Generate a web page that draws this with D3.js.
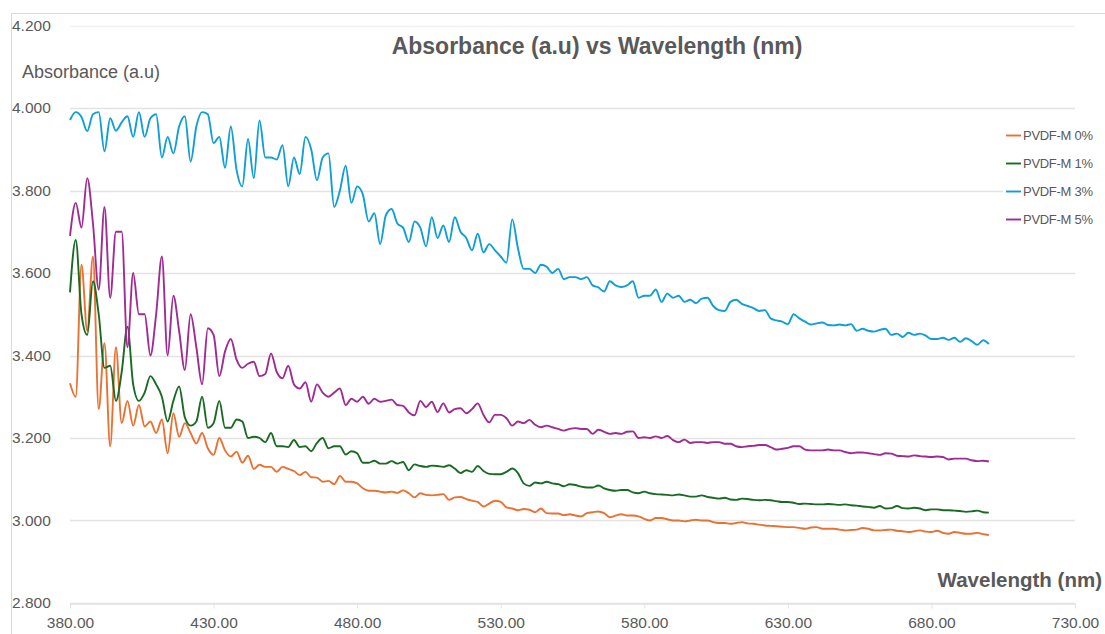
<!DOCTYPE html>
<html>
<head>
<meta charset="utf-8">
<script src="https://cdn.jsdelivr.net/npm/d3@7"></script>
<style>
  body { margin: 0; background: #fff; }
  svg { font-family: "Liberation Sans", Arial, sans-serif; }
</style>
</head>
<body>
<div id="chart"></div>
<script>
// wavelength grid (nm), 2 nm steps from 380 to 700
var wavelengths = d3.range(380, 701, 2);

var xTicks = [380, 430, 480, 530, 580, 630, 680, 730];
var yTicks = [2.8, 3.0, 3.2, 3.4, 3.6, 3.8, 4.0, 4.2];

var seriesNames = ["PVDF-M 0%", "PVDF-M 1%", "PVDF-M 3%", "PVDF-M 5%"];
var seriesColors = ["#E97132", "#196B24", "#0F9ED5", "#A02B93"];

var pvdf0 = [
  3.333, 3.30, 3.62, 3.46, 3.64, 3.27, 3.43, 3.18, 3.42, 3.236,
  3.29, 3.23, 3.28, 3.228, 3.24, 3.212, 3.245, 3.163, 3.26, 3.203,
  3.236, 3.212, 3.187, 3.212, 3.175, 3.159, 3.20, 3.17, 3.155, 3.167,
  3.14, 3.157, 3.125, 3.135, 3.13, 3.13, 3.118, 3.13, 3.125, 3.12,
  3.11, 3.118, 3.105, 3.104, 3.094, 3.096, 3.088, 3.108, 3.094, 3.094,
  3.09, 3.078, 3.072, 3.072, 3.07, 3.068, 3.07, 3.067, 3.073, 3.066,
  3.056, 3.066, 3.062, 3.061, 3.062, 3.064, 3.05, 3.056, 3.057, 3.052,
  3.048, 3.045, 3.034, 3.041, 3.048, 3.045, 3.032, 3.029, 3.025, 3.028,
  3.026, 3.02, 3.029, 3.018, 3.017, 3.017, 3.013, 3.015, 3.012, 3.01,
  3.018, 3.02, 3.022, 3.018, 3.008, 3.012, 3.015, 3.012, 3.012, 3.01,
  3.004, 3.0, 3.006, 3.006, 3.003, 3.0, 3.0, 2.998, 3.0, 3.002,
  3.0, 3.0, 2.996, 2.994, 2.994, 2.992, 2.994, 2.996, 2.993, 2.992,
  2.99, 2.988, 2.987, 2.986, 2.985, 2.984, 2.984, 2.982, 2.98, 2.983,
  2.984, 2.98, 2.98, 2.98, 2.978, 2.976, 2.977, 2.978, 2.982, 2.98,
  2.976, 2.976, 2.977, 2.978, 2.975, 2.974, 2.972, 2.974, 2.976, 2.973,
  2.972, 2.975, 2.97, 2.968, 2.972, 2.97, 2.968, 2.968, 2.97, 2.967,
  2.965
];

var pvdf1 = [
  3.553, 3.68, 3.50, 3.45, 3.58, 3.50, 3.37, 3.375, 3.29, 3.36,
  3.47, 3.33, 3.29, 3.31, 3.35, 3.33, 3.30, 3.24, 3.29, 3.325,
  3.25, 3.23, 3.24, 3.30, 3.225, 3.236, 3.29, 3.225, 3.225, 3.245,
  3.24, 3.20, 3.203, 3.20, 3.19, 3.212, 3.18, 3.18, 3.178, 3.195,
  3.178, 3.18, 3.168, 3.188, 3.20, 3.175, 3.18, 3.18, 3.16, 3.168,
  3.163, 3.14, 3.14, 3.145, 3.138, 3.138, 3.144, 3.138, 3.142, 3.122,
  3.136, 3.132, 3.13, 3.133, 3.132, 3.13, 3.134, 3.126, 3.115, 3.122,
  3.118, 3.132, 3.12, 3.113, 3.112, 3.112, 3.118, 3.126, 3.115, 3.09,
  3.084, 3.092, 3.09, 3.094, 3.09, 3.088, 3.083, 3.088, 3.086, 3.082,
  3.08, 3.08, 3.085, 3.078, 3.074, 3.072, 3.074, 3.074, 3.068, 3.066,
  3.07, 3.066, 3.064, 3.063, 3.062, 3.061, 3.063, 3.061, 3.058, 3.058,
  3.061, 3.057, 3.055, 3.053, 3.055, 3.051, 3.05, 3.053, 3.052, 3.05,
  3.049, 3.05, 3.049, 3.047, 3.045, 3.045, 3.043, 3.04, 3.041, 3.04,
  3.039, 3.039, 3.04, 3.039, 3.038, 3.039, 3.037, 3.036, 3.034, 3.033,
  3.031, 3.035, 3.029, 3.03, 3.035, 3.03, 3.029, 3.031, 3.029, 3.025,
  3.027, 3.027, 3.025, 3.025, 3.024, 3.023, 3.021, 3.022, 3.024, 3.02,
  3.019
];

var pvdf3 = [
  3.971, 3.99, 3.978, 3.944, 3.985, 3.99, 3.895, 3.975, 3.945, 3.965,
  3.98, 3.93, 3.99, 3.93, 3.975, 3.985, 3.88, 3.93, 3.89, 3.955,
  3.98, 3.87, 3.955, 3.99, 3.985, 3.915, 3.93, 3.855, 3.955, 3.85,
  3.81, 3.925, 3.83, 3.97, 3.88, 3.88, 3.875, 3.91, 3.81, 3.88,
  3.84, 3.93, 3.90, 3.825, 3.88, 3.89, 3.76, 3.80, 3.86, 3.77,
  3.81, 3.79, 3.725, 3.745, 3.67, 3.74, 3.755, 3.72, 3.71, 3.675,
  3.725, 3.71, 3.665, 3.735, 3.685, 3.715, 3.675, 3.735, 3.70, 3.685,
  3.655, 3.695, 3.65, 3.67, 3.655, 3.64, 3.625, 3.73, 3.66, 3.61,
  3.61, 3.60, 3.62, 3.615, 3.60, 3.61, 3.585, 3.59, 3.59, 3.585,
  3.59, 3.57, 3.565, 3.555, 3.58, 3.57, 3.566, 3.57, 3.58, 3.54,
  3.545, 3.545, 3.56, 3.53, 3.55, 3.54, 3.545, 3.53, 3.535, 3.527,
  3.538, 3.54, 3.52, 3.51, 3.508, 3.53, 3.535, 3.525, 3.52, 3.515,
  3.508, 3.51, 3.49, 3.485, 3.482, 3.476, 3.50, 3.49, 3.482, 3.475,
  3.478, 3.48, 3.474, 3.473, 3.475, 3.473, 3.476, 3.46, 3.465, 3.46,
  3.458, 3.462, 3.465, 3.45, 3.453, 3.445, 3.455, 3.45, 3.453, 3.448,
  3.44, 3.44, 3.443, 3.438, 3.443, 3.433, 3.442, 3.435, 3.426, 3.437,
  3.428
];

var pvdf5 = [
  3.69, 3.77, 3.71, 3.83, 3.72, 3.56, 3.76, 3.54, 3.70, 3.70,
  3.42, 3.60, 3.50, 3.50, 3.40, 3.50, 3.64, 3.40, 3.545, 3.46,
  3.365, 3.50, 3.42, 3.33, 3.466, 3.45, 3.35, 3.41, 3.44, 3.39,
  3.37, 3.38, 3.385, 3.35, 3.355, 3.405, 3.36, 3.345, 3.375, 3.33,
  3.32, 3.335, 3.288, 3.33, 3.31, 3.30, 3.31, 3.32, 3.28, 3.295,
  3.288, 3.30, 3.283, 3.295, 3.288, 3.29, 3.293, 3.28, 3.278, 3.262,
  3.255, 3.29, 3.275, 3.288, 3.263, 3.284, 3.262, 3.27, 3.272, 3.26,
  3.27, 3.284, 3.256, 3.238, 3.256, 3.256, 3.248, 3.23, 3.24, 3.236,
  3.244, 3.232, 3.226, 3.23, 3.226, 3.222, 3.218, 3.222, 3.224, 3.222,
  3.222, 3.21, 3.22, 3.215, 3.21, 3.212, 3.21, 3.215, 3.216, 3.20,
  3.202, 3.20, 3.204, 3.20, 3.205, 3.195, 3.19, 3.196, 3.188, 3.19,
  3.19, 3.188, 3.19, 3.19, 3.186, 3.186, 3.18, 3.178, 3.18, 3.181,
  3.183, 3.183, 3.178, 3.172, 3.174, 3.176, 3.18, 3.18, 3.172, 3.17,
  3.17, 3.17, 3.172, 3.17, 3.17, 3.166, 3.163, 3.165, 3.165, 3.163,
  3.161, 3.159, 3.163, 3.162, 3.157, 3.156, 3.155, 3.158, 3.156, 3.155,
  3.154, 3.155, 3.154, 3.148, 3.15, 3.15, 3.15, 3.146, 3.144, 3.145,
  3.143
];

var seriesValues = [pvdf0, pvdf1, pvdf3, pvdf5];

// chart frame
var width = 1105, height = 634;
var plot = {left: 70, right: 1075, top: 25.5, bottom: 603};
var textColor = "#595959";

var svg = d3.select("#chart")
  .append("svg")
  .attr("width", width)
  .attr("height", height);

svg.append("rect")
  .attr("x", 11.5).attr("y", 13.5)
  .attr("width", 1100).attr("height", 640)
  .attr("fill", "#fff")
  .attr("stroke", "#d9d9d9");

var x = d3.scaleLinear().domain([380, 730]).range([plot.left, plot.right]);
var y = d3.scaleLinear().domain([2.8, 4.2]).range([plot.bottom, plot.top]);

// horizontal gridlines
svg.append("g")
  .selectAll("line")
  .data(yTicks)
  .enter().append("line")
  .attr("x1", plot.left).attr("x2", plot.right)
  .attr("y1", function(d) { return Math.round(y(d)) + 0.5; })
  .attr("y2", function(d) { return Math.round(y(d)) + 0.5; })
  .attr("stroke", function(d) { return d === 4.2 ? "#f2f2f2" : "#e3e3e3"; })
  .attr("stroke-width", 1.3);

// y tick labels (left aligned at chart edge)
svg.append("g")
  .selectAll("text")
  .data(yTicks)
  .enter().append("text")
  .attr("x", 12)
  .attr("y", function(d) { return y(d); })
  .attr("dy", "0.35em")
  .style("font-size", "15.5px")
  .attr("fill", textColor)
  .text(function(d) { return d3.format(".3f")(d); });

// x axis
var xAxis = svg.append("g")
  .attr("transform", "translate(0," + (Math.round(plot.bottom) + 0.5) + ")")
  .call(d3.axisBottom(x).tickValues(xTicks).tickSize(5).tickSizeOuter(0).tickFormat(d3.format(".2f")));
xAxis.select(".domain").attr("stroke", "#e3e3e3").attr("stroke-width", 1.3);
xAxis.selectAll(".tick line").attr("stroke", "#e3e3e3");
xAxis.selectAll(".tick text")
  .attr("dy", "0")
  .attr("y", 24)
  .style("font-size", "15.5px")
  .style("font-family", "'Liberation Sans', Arial, sans-serif")
  .attr("fill", textColor);

// lines
var line = d3.line()
  .x(function(d) { return x(d[0]); })
  .y(function(d) { return y(d[1]); })
  .curve(d3.curveMonotoneX);

svg.append("g")
  .selectAll("path")
  .data(seriesValues)
  .enter().append("path")
  .attr("d", function(vals) {
    return line(vals.map(function(v, i) { return [wavelengths[i], v]; }));
  })
  .attr("fill", "none")
  .attr("stroke", function(d, i) { return seriesColors[i]; })
  .attr("stroke-width", 1.9)
  .attr("stroke-linejoin", "round");

// title
svg.append("text")
  .attr("x", 597)
  .attr("y", 54)
  .attr("text-anchor", "middle")
  .style("font-size", "23px")
  .attr("font-weight", "bold")
  .attr("fill", textColor)
  .text("Absorbance (a.u) vs Wavelength (nm)");

// axis titles
svg.append("text")
  .attr("x", 22)
  .attr("y", 78)
  .style("font-size", "18px")
  .attr("fill", textColor)
  .text("Absorbance (a.u)");

svg.append("text")
  .attr("x", 1102)
  .attr("y", 587)
  .attr("text-anchor", "end")
  .style("font-size", "20.5px")
  .attr("font-weight", "bold")
  .attr("fill", textColor)
  .text("Wavelength (nm)");

// legend
svg.append("rect")
  .attr("x", 1003).attr("y", 124)
  .attr("width", 96).attr("height", 106)
  .attr("fill", "#fff");

var legend = svg.selectAll(".legend")
  .data(seriesNames)
  .enter().append("g")
  .attr("class", "legend")
  .attr("transform", function(d, i) { return "translate(1006," + (135.5 + i * 28) + ")"; });

legend.append("line")
  .attr("x1", 0).attr("x2", 15)
  .attr("stroke", function(d, i) { return seriesColors[i]; })
  .attr("stroke-width", 1.9);

legend.append("text")
  .attr("x", 17)
  .attr("dy", "0.35em")
  .style("font-size", "13px")
  .attr("textLength", 70)
  .attr("lengthAdjust", "spacing")
  .attr("fill", textColor)
  .text(function(d) { return d; });
</script>
</body>
</html>
